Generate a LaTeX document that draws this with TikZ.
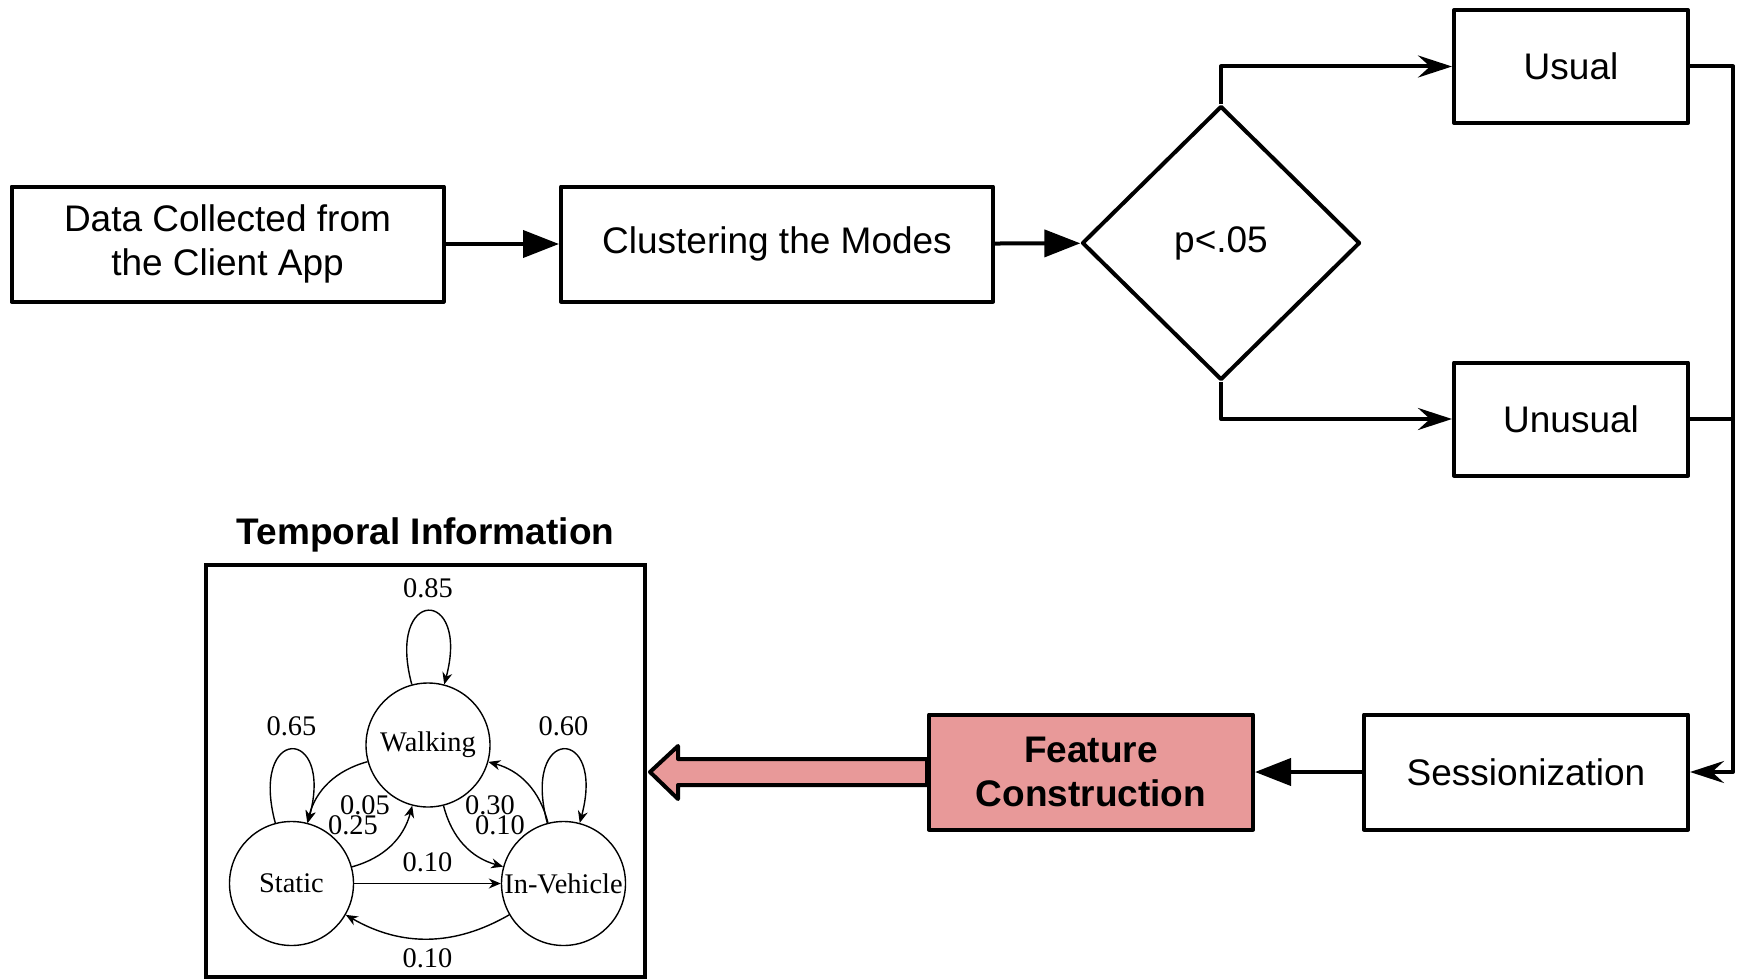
\documentclass[tikz,border=0pt]{standalone}
\usepackage{fontspec}
\setmainfont{Liberation Sans}
\newfontfamily\serifstate{Liberation Serif}
\usetikzlibrary{shapes.geometric, arrows.meta, positioning}
\definecolor{featpink}{RGB}{232,153,153}

\begin{document}
\begin{tikzpicture}[x=0.5pt, y=0.5pt, every loop/.style={}]
        \tikzstyle{stepbox} = [rectangle, draw, line width=2pt, line join=round, align=center, inner sep=0pt, minimum width=216pt, minimum height=57.5pt, font=\fontsize{18.5}{22}\selectfont]
        \tikzstyle{decision} = [diamond, draw, line width=2pt, line join=round, inner sep=0pt, minimum width=139pt, minimum height=137pt, font=\fontsize{18.5}{22}\selectfont]
        \tikzstyle{mode} = [circle, draw, line width=0.7pt, inner sep=0pt, minimum size=62pt, font=\serifstate\fontsize{14.2}{17}\selectfont]
        \tikzstyle{prob} = [font=\serifstate\fontsize{14.2}{17}\selectfont]
        \tikzstyle{flow} = [line width=2pt, -{Triangle[length=18pt, width=13.5pt]}]
        \tikzstyle{branch} = [line width=2pt, line join=round, -{Stealth[length=17pt, width=11pt, inset=6pt]}]
        \tikzstyle{trans} = [line width=0.7pt, -{Stealth[length=6pt, width=5pt]}]

        \useasboundingbox (0,0) rectangle (1740,-979);

        \node (data) [stepbox] at (227.5,-244) {Data Collected from\\the Client App};
        \node (clust) [stepbox] at (777,-244) {Clustering the Modes};
        \node (test) [decision] at (1221,-243) {p<.05};
        \node (usual) [stepbox, minimum width=117pt, minimum height=56.5pt] at (1571,-66.5) {Usual};
        \node (unusual) [stepbox, minimum width=117pt, minimum height=56.5pt] at (1571,-419) {Unusual};
        \node (session) [stepbox, minimum width=162pt] at (1526,-772) {Sessionization};
        \node (feature) [stepbox, minimum width=162pt, fill=featpink, font=\fontsize{18.5}{22}\selectfont\bfseries] at (1091,-772) {Feature\\Construction};
        \coordinate (bus) at (1733,-772);

        \draw [flow] (data) -- (clust);
        \draw [flow] (clust) -- (test);
        \draw [branch] (test.north) |- (usual);
        \draw [branch] (test.south) |- (unusual);
        \draw [branch] (usual.east) -| (bus) -- (session.east);
        \draw [line width=2pt] (unusual.east) -- (unusual.east -| bus);
        \draw [flow] (session) -- (feature);

        \draw [line width=2pt, line join=round, fill=featpink] (feature.west) +(0,13) -- +(-249,13) -- +(-249,26) -- +(-277,0) -- +(-249,-27) -- +(-249,-13) -- +(0,-13) -- cycle;

        % temporal information
        \node (tbox) [draw, line width=2pt, minimum width=219.5pt, minimum height=206pt] at (425.5,-771) {};
        \node (ttitle) [above=5pt of tbox, inner sep=0pt, font=\fontsize{18.5}{22}\selectfont\bfseries] {Temporal Information};

        \node (walk) [mode] at (428,-745) {Walking};
        \node (static) [mode] at (291.5,-883.5) {Static};
        \node (car) [mode] at (563.5,-883.5) {\makebox[0pt]{In-Vehicle}};

        \draw [trans] (walk) to [loop above] node [prob, above=3pt] {0.85} (walk);
        \draw [trans] (static) to [loop above] node [prob, above=3pt] {0.65} (static);
        \draw [trans] (car) to [loop above] node [prob, above=3pt] {0.60} (car);
        \draw [trans] (walk) to [bend right] (static);
        \draw [trans] (static) to [bend right] (walk);
        \draw [trans] (walk) to [bend right] (car);
        \draw [trans] (car) to [bend right] (walk);
        \draw [trans] (static) -- node [prob, above=2pt] {0.10} (car);
        \draw [trans] (car) to [bend left] node [prob, below=1pt] {0.10} (static);

        \node (pws) [prob] at (365,-805) {0.05};
        \node (psw) [prob] at (353,-825) {0.25};
        \node (pwc) [prob] at (490,-805) {0.30};
        \node (pcw) [prob] at (500,-825) {0.10};
\end{tikzpicture}
\end{document}
